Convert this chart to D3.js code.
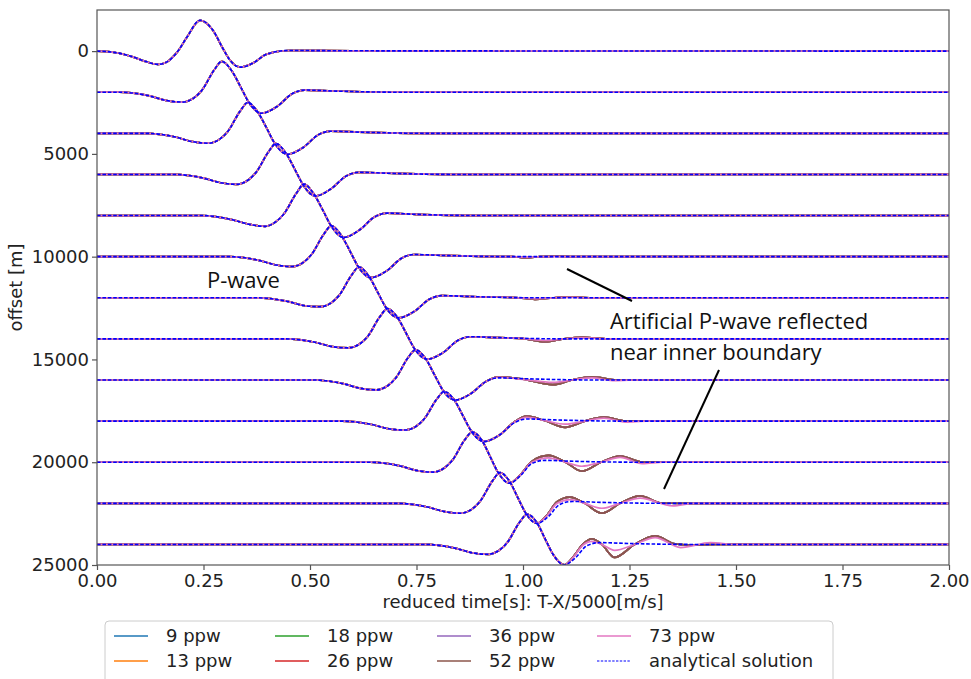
<!DOCTYPE html>
<html>
<head>
<meta charset="utf-8">
<script src="https://cdn.jsdelivr.net/npm/d3@7"></script>
<style>
  body { margin: 0; background: #fff; }
  svg { display: block; }
</style>
</head>
<body>
<svg id="chart" width="971" height="679"></svg>
<script>
// ---------------------------------------------------------------------------
// Data: receiver offsets (m), reduced-time samples (s) and normalised amplitude
// ---------------------------------------------------------------------------
const offsets = [0, 2000, 4000, 6000, 8000, 10000, 12000, 14000, 16000, 18000, 20000, 22000, 24000];

const seriesNames = ["9 ppw", "13 ppw", "18 ppw", "26 ppw", "36 ppw", "52 ppw", "73 ppw"];
const analyticalName = "analytical solution";

const xTicks = [0, 0.25, 0.5, 0.75, 1.0, 1.25, 1.5, 1.75, 2.0];
const yTicks = [0, 5000, 10000, 15000, 20000, 25000];

// analytical seismogram at each offset: [reduced time, amplitude]
const analyticTraces = [
  [[0,0],[0.04,-0.04],[0.08,-0.17],[0.115,-0.34],[0.143,-0.43],[0.164,-0.35],[0.19,0.0],[0.211,0.45],[0.242,1.0],[0.272,0.68],[0.295,0.1],[0.312,-0.29],[0.336,-0.52],[0.366,-0.39],[0.395,-0.12],[0.413,-0.04],[0.45,0.02],[0.6,0.01],[2,0]],
  [[0,0],[0.053,0],[0.123,-0.12],[0.163,-0.27],[0.201,-0.32],[0.228,-0.18],[0.246,0.06],[0.275,0.72],[0.293,1],[0.315,0.72],[0.338,0.15],[0.355,-0.3],[0.386,-0.68],[0.423,-0.46],[0.458,-0.05],[0.488,0.07],[0.553,0.04],[0.713,0],[2,0]],
  [[0,0],[0.114,0],[0.184,-0.12],[0.224,-0.27],[0.262,-0.32],[0.289,-0.18],[0.307,0.06],[0.336,0.72],[0.354,1],[0.376,0.72],[0.399,0.15],[0.416,-0.3],[0.447,-0.68],[0.484,-0.46],[0.519,-0.05],[0.549,0.07],[0.614,0.04],[0.774,0],[2,0]],
  [[0,0],[0.180,0],[0.250,-0.12],[0.290,-0.27],[0.328,-0.32],[0.355,-0.18],[0.373,0.06],[0.402,0.72],[0.420,1],[0.442,0.72],[0.465,0.15],[0.482,-0.3],[0.513,-0.7],[0.550,-0.46],[0.585,-0.05],[0.615,0.07],[0.680,0.04],[0.840,0],[2,0]],
  [[0,0],[0.246,0],[0.316,-0.13],[0.356,-0.28],[0.394,-0.35],[0.421,-0.19],[0.439,0.06],[0.468,0.72],[0.486,1.02],[0.508,0.72],[0.531,0.15],[0.548,-0.3],[0.579,-0.71],[0.616,-0.47],[0.651,-0.05],[0.681,0.08],[0.746,0.04],[0.906,0],[2,0]],
  [[0,0],[0.310,0],[0.380,-0.12],[0.420,-0.27],[0.458,-0.32],[0.485,-0.18],[0.503,0.06],[0.532,0.72],[0.550,1],[0.572,0.72],[0.595,0.15],[0.612,-0.3],[0.643,-0.68],[0.680,-0.46],[0.715,-0.05],[0.745,0.07],[0.810,0.04],[0.970,0],[2,0]],
  [[0,0],[0.375,0],[0.445,-0.11],[0.485,-0.25],[0.523,-0.29],[0.550,-0.16],[0.568,0.07],[0.597,0.72],[0.615,1],[0.637,0.72],[0.660,0.15],[0.677,-0.29],[0.708,-0.65],[0.745,-0.44],[0.780,-0.05],[0.810,0.07],[0.875,0.04],[1.035,0],[2,0]],
  [[0,0],[0.442,0],[0.512,-0.11],[0.552,-0.25],[0.590,-0.29],[0.617,-0.16],[0.635,0.07],[0.664,0.72],[0.682,0.98],[0.704,0.72],[0.727,0.15],[0.744,-0.29],[0.775,-0.66],[0.812,-0.45],[0.847,-0.05],[0.877,0.07],[0.942,0.04],[1.102,0],[2,0]],
  [[0,0],[0.508,0],[0.578,-0.12],[0.618,-0.27],[0.656,-0.32],[0.683,-0.18],[0.701,0.06],[0.730,0.72],[0.748,0.98],[0.770,0.72],[0.793,0.15],[0.810,-0.29],[0.841,-0.65],[0.878,-0.44],[0.913,-0.05],[0.943,0.07],[1.008,0.04],[1.168,0],[2,0]],
  [[0,0],[0.575,0],[0.645,-0.11],[0.685,-0.25],[0.723,-0.29],[0.750,-0.16],[0.768,0.07],[0.797,0.7],[0.815,0.96],[0.837,0.72],[0.860,0.15],[0.877,-0.29],[0.908,-0.66],[0.945,-0.45],[0.980,-0.05],[1.010,0.07],[1.075,0.04],[1.235,0],[2,0]],
  [[0,0],[0.641,0],[0.711,-0.12],[0.751,-0.27],[0.789,-0.32],[0.816,-0.18],[0.834,0.06],[0.863,0.72],[0.881,0.98],[0.903,0.72],[0.924,0.15],[0.941,-0.32],[0.968,-0.68],[0.993,-0.45],[1.021,-0.04],[1.051,0.06],[1.121,0.03],[1.281,0],[2,0]],
  [[0,0],[0.706,0],[0.776,-0.12],[0.816,-0.27],[0.854,-0.32],[0.881,-0.18],[0.899,0.06],[0.928,0.72],[0.946,1],[0.968,0.72],[0.989,0.15],[1.006,-0.31],[1.033,-0.65],[1.058,-0.45],[1.086,-0.04],[1.116,0.06],[1.186,0.03],[1.346,0],[2,0]],
  [[0,0],[0.770,0],[0.840,-0.12],[0.880,-0.27],[0.918,-0.32],[0.945,-0.18],[0.963,0.06],[0.992,0.72],[1.010,0.98],[1.032,0.72],[1.053,0.15],[1.070,-0.31],[1.097,-0.66],[1.122,-0.45],[1.150,-0.04],[1.180,0.06],[1.250,0.03],[1.410,0],[2,0]]
];

// numerical (9-52 ppw): stretch of trace that differs from the analytical one
const coarseTails = [
  null, null, null, null, null,
  [[0.975,0],[1.005,-0.035],[1.04,0],[1.075,0.02],[1.12,0]],
  [[0.99,0],[1.028,-0.05],[1.07,0],[1.11,0.03],[1.16,0]],
  [[1.0,0.01],[1.052,-0.09],[1.095,0],[1.141,0.05],[1.20,0]],
  [[0.943,0.1],[1.0,0.03],[1.07,-0.15],[1.115,0],[1.162,0.1],[1.22,0]],
  [[0.98,-0.02],[1.009,0.16],[1.05,0.02],[1.099,-0.2],[1.145,0],[1.19,0.13],[1.24,0.01],[1.28,0]],
  [[0.993,-0.42],[1.02,0.02],[1.06,0.22],[1.10,0.0],[1.138,-0.29],[1.183,0],[1.228,0.2],[1.28,0.01],[1.32,0]],
  [[1.055,-0.4],[1.08,0.05],[1.11,0.2],[1.145,0],[1.185,-0.32],[1.228,0],[1.275,0.24],[1.325,0.01],[1.37,0]],
  [[1.118,-0.4],[1.14,0.0],[1.162,0.18],[1.185,0.0],[1.215,-0.42],[1.262,0],[1.31,0.28],[1.357,0.02],[1.40,-0.02],[1.45,0]]
];

// numerical (73 ppw): stretch of trace that differs from the analytical one
const fineTails = [
  null, null, null, null, null,
  [[0.975,0],[1.005,-0.015],[1.05,0],[1.12,0]],
  [[0.99,0],[1.028,-0.025],[1.07,0],[1.11,0.015],[1.16,0]],
  [[1.0,0.01],[1.052,-0.05],[1.095,0],[1.141,0.03],[1.20,0]],
  [[0.943,0.09],[1.0,0.02],[1.07,-0.08],[1.115,0],[1.162,0.07],[1.21,-0.02],[1.26,0]],
  [[0.98,-0.03],[1.009,0.12],[1.05,0.02],[1.099,-0.1],[1.145,0],[1.19,0.1],[1.24,-0.03],[1.29,0]],
  [[0.993,-0.43],[1.02,-0.01],[1.06,0.14],[1.10,0.0],[1.138,-0.13],[1.183,0],[1.228,0.16],[1.28,-0.05],[1.33,0]],
  [[1.055,-0.42],[1.08,0.0],[1.11,0.12],[1.145,0],[1.185,-0.16],[1.228,0],[1.275,0.17],[1.352,-0.08],[1.40,0]],
  [[1.118,-0.42],[1.14,-0.03],[1.162,0.1],[1.185,0.0],[1.215,-0.19],[1.262,0],[1.31,0.22],[1.37,-0.1],[1.44,0.06],[1.50,0]]
];

// which tail each numerical series follows
const seriesTails = [coarseTails, coarseTails, coarseTails, coarseTails, coarseTails, coarseTails, fineTails];

// ---------------------------------------------------------------------------
// Layout and styling
// ---------------------------------------------------------------------------
const plot = { left: 97, right: 949, top: 10, bottom: 565 };
const GAIN = 1500;                      // offset metres per unit of trace amplitude
const seriesColors = ["#1f77b4", "#ff7f0e", "#2ca02c", "#d62728", "#9467bd", "#8c564b", "#e377c2"];
const analyticColor = "#0000ff";
const FONT = "DejaVu Sans, sans-serif";

const svg = d3.select("#chart");

const x = d3.scaleLinear().domain([0, 2]).range([plot.left, plot.right]);
const y = d3.scaleLinear().domain([-2000, 25000]).range([plot.top, plot.bottom]);

svg.append("defs").append("clipPath").attr("id", "plot-clip")
  .append("rect")
  .attr("x", plot.left).attr("y", plot.top)
  .attr("width", plot.right - plot.left).attr("height", plot.bottom - plot.top);

const traceLine = off => d3.line()
  .x(d => x(d[0]))
  .y(d => y(off - d[1] * GAIN))
  .curve(d3.curveMonotoneX);

// splice a numerical tail into the analytical trace
function numericalTrace(k, tails) {
  const base = analyticTraces[k];
  const tail = tails[k];
  if (!tail) return base;
  const t0 = tail[0][0], t1 = tail[tail.length - 1][0];
  return base.filter(p => p[0] < t0).concat(tail, base.filter(p => p[0] > t1));
}

const traces = svg.append("g").attr("clip-path", "url(#plot-clip)");

// numerical solutions, coarse to fine
seriesNames.forEach((name, s) => {
  const g = traces.append("g").attr("class", "series");
  offsets.forEach((off, k) => {
    g.append("path")
      .datum(numericalTrace(k, seriesTails[s]))
      .attr("d", traceLine(off))
      .attr("fill", "none")
      .attr("stroke", seriesColors[s])
      .attr("stroke-width", 1.7);
  });
});

// analytical solution on top
const ga = traces.append("g").attr("class", "analytical");
offsets.forEach((off, k) => {
  ga.append("path")
    .datum(analyticTraces[k])
    .attr("d", traceLine(off))
    .attr("fill", "none")
    .attr("stroke", analyticColor)
    .attr("stroke-width", 1.6)
    .attr("stroke-dasharray", "3.6,1.8");
});

// frame
svg.append("rect")
  .attr("x", plot.left).attr("y", plot.top)
  .attr("width", plot.right - plot.left).attr("height", plot.bottom - plot.top)
  .attr("fill", "none").attr("stroke", "#555").attr("stroke-width", 1.2);

// axes
const xAxis = d3.axisBottom(x).tickValues(xTicks).tickFormat(d3.format(".2f")).tickSize(5).tickPadding(4);
const yAxis = d3.axisLeft(y).tickValues(yTicks).tickFormat(d3.format("d")).tickSize(5).tickPadding(3);

const gx = svg.append("g").attr("transform", `translate(0,${plot.bottom})`).call(xAxis);
const gy = svg.append("g").attr("transform", `translate(${plot.left},0)`).call(yAxis);
[gx, gy].forEach(g => {
  g.select(".domain").remove();
  g.selectAll(".tick line").attr("stroke", "#555").attr("stroke-width", 1.2);
  g.selectAll(".tick text").attr("font-family", FONT).attr("font-size", 18).attr("fill", "#222");
});

svg.append("text")
  .attr("x", (plot.left + plot.right) / 2).attr("y", 608)
  .attr("text-anchor", "middle")
  .attr("font-family", FONT).attr("font-size", 18).attr("fill", "#222")
  .text("reduced time[s]: T-X/5000[m/s]");

svg.append("text")
  .attr("transform", `translate(22,${(plot.top + plot.bottom) / 2}) rotate(-90)`)
  .attr("text-anchor", "middle")
  .attr("font-family", FONT).attr("font-size", 18).attr("fill", "#222")
  .text("offset [m]");

// annotations (anchored in data coordinates)
const note = svg.append("g").attr("font-family", "Open Sans, sans-serif").attr("font-size", 22).attr("fill", "#111");
note.append("text").attr("x", x(0.258)).attr("y", y(11524)).text("P-wave");
note.append("text").attr("x", x(1.204)).attr("y", y(13519)).text("Artificial P-wave reflected");
note.append("text").attr("x", x(1.204)).attr("y", y(15027)).text("near inner boundary");
const pointers = [
  [[1.1033, 10600], [1.2559, 12157]],
  [[1.4601, 15514], [1.3310, 21303]]
];
pointers.forEach(p => {
  svg.append("line")
    .attr("x1", x(p[0][0])).attr("y1", y(p[0][1]))
    .attr("x2", x(p[1][0])).attr("y2", y(p[1][1]))
    .attr("stroke", "#000").attr("stroke-width", 2);
});

// legend
const legend = svg.append("g");
legend.append("rect")
  .attr("x", 105).attr("y", 621).attr("width", 728).attr("height", 80)
  .attr("rx", 4).attr("fill", "#fff").attr("stroke", "#ccc").attr("stroke-width", 1);

const legendItems = seriesNames.map((n, i) => ({ name: n, color: seriesColors[i], dash: null }))
  .concat([{ name: analyticalName, color: analyticColor, dash: "2.4,1.4" }]);
const colX = [114, 275, 437, 597];
const rowY = [636, 661];
legendItems.forEach((d, i) => {
  const cx = colX[Math.floor(i / 2)], cy = rowY[i % 2];
  legend.append("line")
    .attr("x1", cx).attr("x2", cx + 34).attr("y1", cy).attr("y2", cy)
    .attr("stroke", d.color).attr("stroke-width", d.dash ? 1.2 : 1.5)
    .attr("stroke-dasharray", d.dash);
  legend.append("text")
    .attr("x", cx + 52).attr("y", cy).attr("dy", "0.35em")
    .attr("font-family", FONT).attr("font-size", 18).attr("fill", "#222")
    .text(d.name);
});
</script>
</body>
</html>
